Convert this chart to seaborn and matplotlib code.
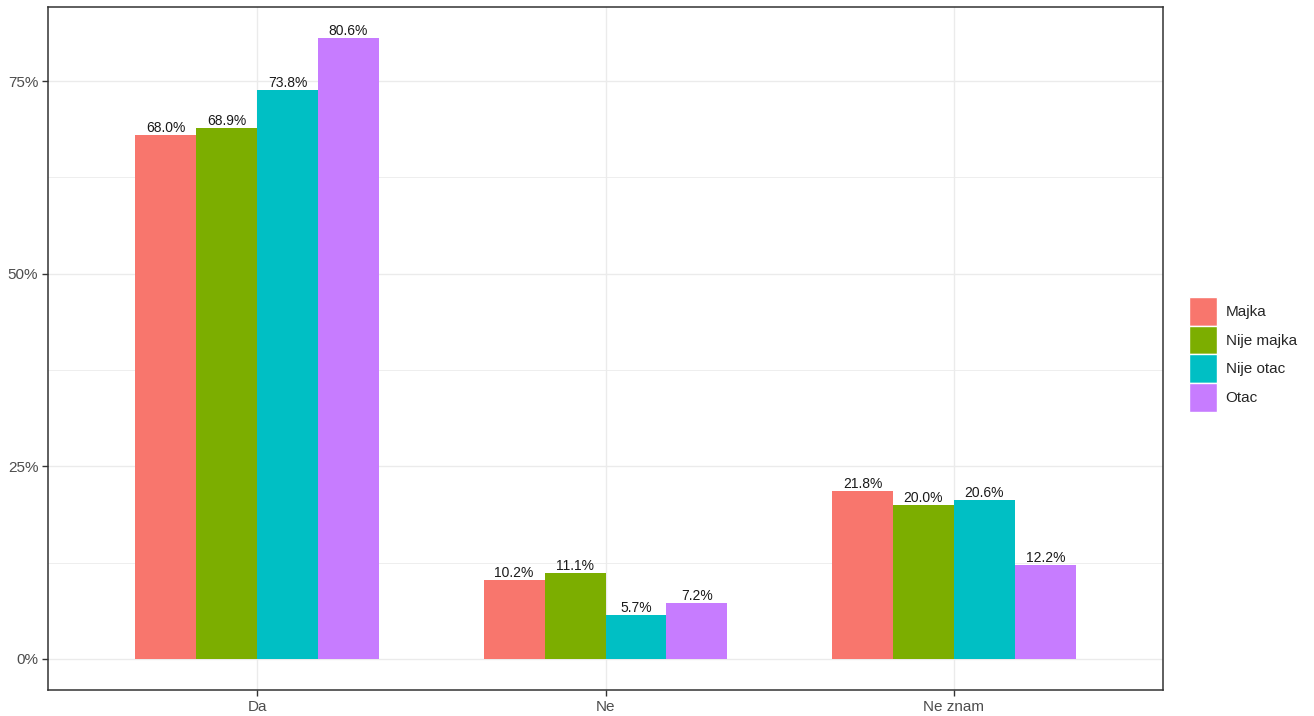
import pandas as pd
import matplotlib.pyplot as plt
import seaborn as sns
from matplotlib.patches import Patch
from matplotlib.ticker import FixedLocator, FuncFormatter

# Chart data
answers = ["Da", "Ne", "Ne znam"]
groups = ["Majka", "Nije majka", "Nije otac", "Otac"]
majka = [68.0, 10.2, 21.8]
nije_majka = [68.9, 11.1, 20.0]
nije_otac = [73.8, 5.7, 20.6]
otac = [80.6, 7.2, 12.2]
colors = ["#F8766D", "#7CAE00", "#00BFC4", "#C77CFF"]

rows = []
for grp, vals in zip(groups, [majka, nije_majka, nije_otac, otac]):
    for ans, v in zip(answers, vals):
        rows.append({"answer": ans, "group": grp, "pct": v})
df = pd.DataFrame(rows)

sns.set_style("white")
plt.rcParams['font.family'] = ['Liberation Sans', 'DejaVu Sans']

fig = plt.figure(figsize=(13.14, 7.16), dpi=100)
ax = fig.add_axes([48 / 1314, 26 / 716, (1163 - 48) / 1314, (690 - 7) / 716])

sns.barplot(data=df, x="answer", y="pct", hue="group", order=answers,
            hue_order=groups, palette=colors, width=0.7, saturation=1,
            errorbar=None, legend=False, ax=ax, zorder=3, linewidth=0)

for cont in ax.containers:
    ax.bar_label(cont, fmt="%.1f%%", fontsize=10, color="#1a1a1a", padding=0)

ymax = max(max(majka), max(nije_majka), max(nije_otac), max(otac))
ax.set_ylim(-0.05 * ymax, 1.05 * ymax)
ax.set_xlim(-0.6, len(answers) - 0.4)

ax.yaxis.set_major_locator(FixedLocator([0, 25, 50, 75]))
ax.yaxis.set_minor_locator(FixedLocator([12.5, 37.5, 62.5]))
ax.yaxis.set_major_formatter(FuncFormatter(lambda v, p: f"{v:.0f}%"))
ax.grid(True, which="major", color="#EBEBEB", linewidth=1.0, zorder=0)
ax.grid(True, which="minor", axis="y", color="#EBEBEB", linewidth=0.6, zorder=0)
ax.set_axisbelow(True)

ax.set_xlabel("")
ax.set_ylabel("")
ax.tick_params(axis="both", which="major", length=4, width=1, color="#333333",
               labelsize=11, labelcolor="#4D4D4D", pad=3, bottom=True, left=True)
ax.tick_params(axis="y", which="minor", length=0)
for s in ax.spines.values():
    s.set_color("#333333")
    s.set_linewidth(1.1)

handles = [Patch(facecolor=c, edgecolor="white", linewidth=1, label=g)
           for g, c in zip(groups, colors)]
fig.legend(handles=handles, loc="center left", bbox_to_anchor=(1189 / 1314, 0.505),
           frameon=False, fontsize=11, handlelength=1.85, handleheight=2.5,
           handletextpad=0.55, labelspacing=0.0, borderaxespad=0, borderpad=0)

fig.savefig("out.png", dpi=100)
